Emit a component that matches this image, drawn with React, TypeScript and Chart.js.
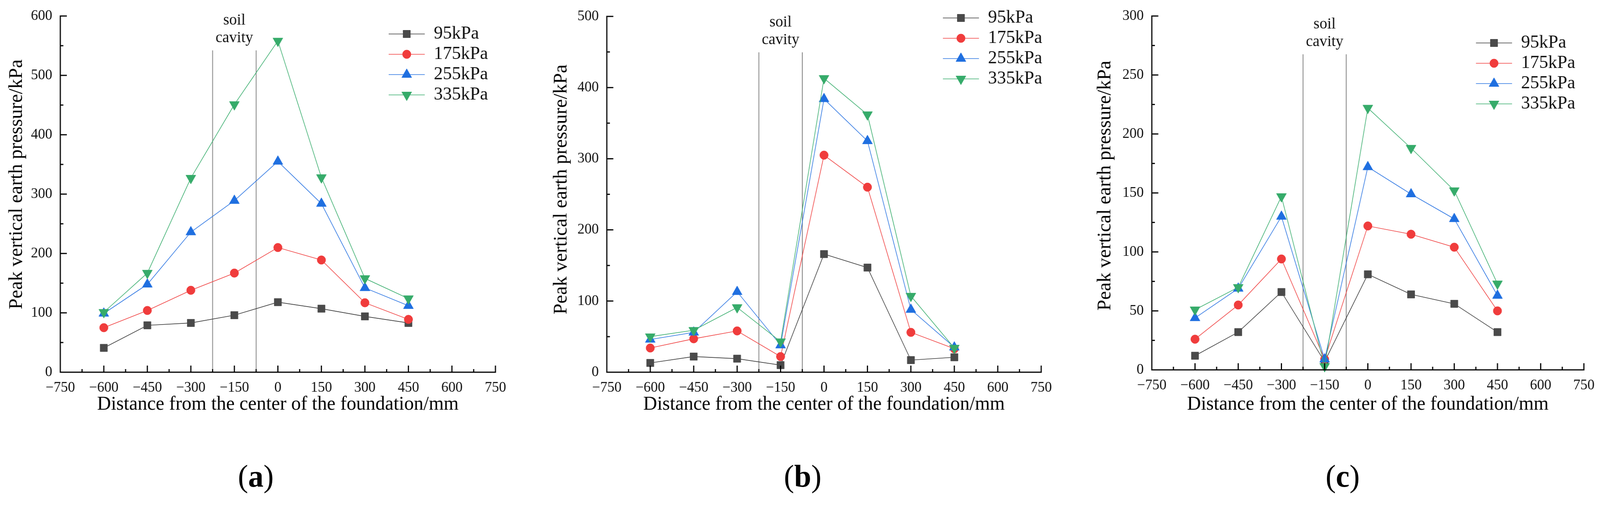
import { useEffect, useRef } from 'react'
import { Chart, registerables } from 'chart.js'
import { drawPoint } from 'chart.js/helpers'

Chart.register(...registerables)

const FONT = '"Liberation Serif", "Times New Roman", serif'
Chart.defaults.font.family = FONT

// ---- data ----
const positions = [-600, -450, -300, -150, 0, 150, 300, 450]
const seriesNames = ['95kPa', '175kPa', '255kPa', '335kPa']
const cavityEdges = [-225, -75]
const cavityLabel = ['soil', 'cavity']
const xTicks = { min: -750, max: 750, step: 150, minor: 75 }

// (a)
const a95 = [41, 79, 83, 96, 118, 107, 94, 83]
const a175 = [75, 104, 138, 167, 210, 189, 117, 89]
const a255 = [99, 148, 236, 289, 355, 284, 142, 112]
const a335 = [101, 167, 327, 451, 558, 328, 158, 124]
// (b)
const b95 = [13, 22, 19, 10, 166, 147, 17, 21]
const b175 = [34, 47, 58, 22, 305, 260, 56, 33]
const b255 = [46, 56, 113, 38, 384, 325, 88, 35]
const b335 = [50, 59, 91, 43, 413, 362, 107, 34]
// (c)
const c95 = [12, 32, 66, 7, 81, 64, 56, 32]
const c175 = [26, 55, 94, 9, 122, 115, 104, 50]
const c255 = [44, 69, 130, 9, 172, 149, 128, 63]
const c335 = [51, 70, 147, 3, 222, 188, 152, 73]

const yTicksA = { max: 600, step: 100, minor: 50 }
const yTicksB = { max: 500, step: 100, minor: 50 }
const yTicksC = { max: 300, step: 50, minor: 25 }

const xTitle = 'Distance from the center of the foundation/mm'
const yTitle = 'Peak vertical earth pressure/kPa'

// ---- styles ----
const markerColors = ['#4a4a4a', '#f03c3c', '#1f6fe0', '#36ab6a']
const lineColors = ['#3a3a3a', '#f04040', '#2a74e2', '#3aae6e']
const pointStyles = ['rect', 'circle', 'triangle', 'triangle'] as const
const pointRotations = [0, 0, 0, 180]
const pointRadii = [13.4, 11, 15, 15]

const PAGE_W = 4166
const PAGE_H = 1293
const SHIFT = 20 // canvas starts this far above the page top
const CH = 1150
const PAD_R = 60

type PanelProps = {
  tag: string
  left: number
  plotRight: number
  top: number
  axisY: number
  yTitlePad: number
  yTitleLift: number
  cavityTop: number
  legendFromRight: number
  legendFirstRow: number
  tagX: number
  series: number[][]
  yTicks: { max: number; step: number; minor: number }
}

const panels: PanelProps[] = [
  {
    tag: 'a', left: 0, plotRight: 1290, top: 41, axisY: 953, yTitlePad: 14, yTitleLift: 4,
    cavityTop: 88, legendFromRight: 278, legendFirstRow: 46, tagX: 666,
    series: [a95, a175, a255, a335], yTicks: yTicksA,
  },
  {
    tag: 'b', left: 1423, plotRight: 2711, top: 42, axisY: 953, yTitlePad: 9, yTitleLift: 2,
    cavityTop: 92, legendFromRight: 256, legendFirstRow: 4, tagX: 2090,
    series: [b95, b175, b255, b335], yTicks: yTicksB,
  },
  {
    tag: 'c', left: 2842, plotRight: 4124, top: 41, axisY: 947, yTitlePad: 6, yTitleLift: 3,
    cavityTop: 98, legendFromRight: 281, legendFirstRow: 69, tagX: 3496,
    series: [c95, c175, c255, c335], yTicks: yTicksC,
  },
]

const fmtNum = (v: number | string) => {
  const n = Number(v)
  return n < 0 ? '\u2212' + Math.abs(n) : String(n)
}

function makeLegendIcon(i: number) {
  const c = document.createElement('canvas')
  c.width = 94
  c.height = 36
  const g = c.getContext('2d')!
  g.strokeStyle = lineColors[i]
  g.lineWidth = 1.6
  g.beginPath()
  g.moveTo(0, 18)
  g.lineTo(94, 18)
  g.stroke()
  g.fillStyle = markerColors[i]
  g.strokeStyle = markerColors[i]
  g.lineWidth = 1
  drawPoint(
    g,
    { pointStyle: pointStyles[i], rotation: pointRotations[i], radius: pointRadii[i], borderWidth: 1 } as any,
    47,
    18,
  )
  return c
}

// soil cavity lines and label, axis lines with inward major/minor ticks
const axisExtras = {
  id: 'axisExtras',
  beforeDatasetsDraw(chart: any, _args: any, opts: any) {
    const { ctx, chartArea, scales } = chart
    const x = scales.x
    const top = chartArea.top + opts.cavityTop
    ctx.save()
    ctx.strokeStyle = '#808080'
    ctx.lineWidth = 2
    cavityEdges.forEach((v) => {
      const px = x.getPixelForValue(v)
      ctx.beginPath()
      ctx.moveTo(px, top)
      ctx.lineTo(px, chartArea.bottom)
      ctx.stroke()
    })
    const mid = x.getPixelForValue((cavityEdges[0] + cavityEdges[1]) / 2)
    ctx.fillStyle = '#111'
    ctx.font = `40px ${FONT}`
    ctx.textAlign = 'center'
    ctx.textBaseline = 'alphabetic'
    ctx.fillText(cavityLabel[0], mid, top - 66)
    ctx.fillText(cavityLabel[1], mid, top - 21)
    ctx.restore()
  },
  afterDraw(chart: any, _args: any, opts: any) {
    const { ctx, chartArea, scales } = chart
    const x = scales.x
    const y = scales.y
    const { left, bottom } = chartArea
    ctx.save()
    ctx.strokeStyle = '#000'
    ctx.lineWidth = 3
    ctx.beginPath()
    ctx.moveTo(left, y.getPixelForValue(opts.yMax) - 1.5)
    ctx.lineTo(left, bottom)
    ctx.moveTo(left - 1.5, bottom)
    ctx.lineTo(x.getPixelForValue(xTicks.max) + 1.5, bottom)
    for (let v = xTicks.min; v <= xTicks.max; v += xTicks.minor) {
      const px = x.getPixelForValue(v)
      const major = (v - xTicks.min) % xTicks.step === 0
      ctx.moveTo(px, bottom)
      ctx.lineTo(px, bottom - (major ? 17 : 8))
    }
    for (let v = 0; v <= opts.yMax; v += opts.yMinor) {
      const py = y.getPixelForValue(v)
      const major = v % opts.yStep === 0
      ctx.moveTo(left, py)
      ctx.lineTo(left + (major ? 17 : 8), py)
    }
    ctx.stroke()
    ctx.restore()
  },
}

// moves the chartArea legend to the top-right corner of the plot
const legendPlacer = {
  id: 'legendPlacer',
  afterLayout(chart: any, _args: any, opts: any) {
    const lg = chart.legend
    if (!lg) return
    const pad = 5
    const w = lg.width
    const h = lg.height
    lg.left = chart.chartArea.right - opts.fromRight - pad
    lg.top = chart.chartArea.top + opts.firstRow - 23.5 - pad
    lg.right = lg.left + w
    lg.bottom = lg.top + h
  },
}

function Panel(p: PanelProps) {
  const canvasRef = useRef<HTMLCanvasElement>(null)
  const chartRef = useRef<Chart | null>(null)
  const cw = p.plotRight - p.left + PAD_R

  useEffect(() => {
    const canvas = canvasRef.current
    if (!canvas) return
    const ctx = canvas.getContext('2d')
    if (!ctx) return
    if (chartRef.current) chartRef.current.destroy()

    const icons = seriesNames.map((_, i) => makeLegendIcon(i))

    const axisCommon = {
      border: { display: false },
      grid: { display: false, drawOnChartArea: false, drawTicks: false },
    }

    chartRef.current = new Chart(ctx, {
      type: 'line',
      data: {
        datasets: p.series.map((vals, i) => ({
          label: seriesNames[i],
          data: positions.map((x, k) => ({ x, y: vals[k] })),
          borderColor: lineColors[i],
          borderWidth: 1.6,
          tension: 0,
          fill: false,
          pointStyle: pointStyles[i],
          pointRotation: pointRotations[i],
          pointRadius: pointRadii[i],
          pointBackgroundColor: markerColors[i],
          pointBorderColor: markerColors[i],
          pointBorderWidth: 1,
          order: 3 - i,
          clip: false as any,
        })),
      },
      plugins: [axisExtras, legendPlacer],
      options: {
        responsive: false,
        animation: false,
        events: [],
        layout: { padding: { left: 0, top: p.top + SHIFT, right: PAD_R, bottom: 0 } },
        scales: {
          x: {
            type: 'linear',
            min: xTicks.min,
            max: xTicks.max,
            afterFit: (s: any) => {
              s.height = CH - (p.axisY + SHIFT)
            },
            ...axisCommon,
            ticks: {
              stepSize: xTicks.step,
              autoSkip: false,
              maxRotation: 0,
              padding: 18,
              color: '#111',
              font: { size: 37, family: FONT },
              callback: (v: any) => fmtNum(v),
            },
            title: {
              display: true,
              text: xTitle,
              color: '#000',
              font: { size: 50, family: FONT },
              padding: { top: 0, bottom: 64 },
            },
          },
          y: {
            type: 'linear',
            min: 0,
            max: p.yTicks.max,
            afterFit: (s: any) => {
              s.width = 157
            },
            ...axisCommon,
            ticks: {
              stepSize: p.yTicks.step,
              autoSkip: false,
              padding: 21,
              color: '#111',
              font: { size: 37, family: FONT },
              callback: (v: any) => fmtNum(v),
            },
            title: {
              display: true,
              // leading blanks nudge the rotated title a little above the axis centre
              text: ' '.repeat(p.yTitleLift) + yTitle,
              color: '#000',
              font: { size: 50, family: FONT },
              padding: { top: p.yTitlePad, bottom: 0 },
            },
          },
        } as any,
        plugins: {
          tooltip: { enabled: false },
          legend: {
            display: true,
            position: 'chartArea' as any,
            align: 'start',
            labels: {
              usePointStyle: true,
              pointStyleWidth: 94,
              padding: 5,
              color: '#111',
              font: { size: 47, family: FONT },
              generateLabels: (chart: any) =>
                chart.data.datasets.map((ds: any, i: number) => ({
                  text: ds.label,
                  pointStyle: icons[i],
                  fillStyle: markerColors[i],
                  strokeStyle: markerColors[i],
                  lineWidth: 0,
                  hidden: false,
                  datasetIndex: i,
                  fontColor: '#111',
                })),
            },
          },
          axisExtras: { cavityTop: p.cavityTop, yMinor: p.yTicks.minor, yStep: p.yTicks.step, yMax: p.yTicks.max },
          legendPlacer: { fromRight: p.legendFromRight, firstRow: p.legendFirstRow },
        } as any,
      },
    })

    return () => {
      if (chartRef.current) {
        chartRef.current.destroy()
        chartRef.current = null
      }
    }
  }, [p])

  return (
    <canvas
      ref={canvasRef}
      width={cw}
      height={CH}
      style={{ position: 'absolute', left: p.left, top: -SHIFT, width: cw, height: CH }}
    />
  )
}

export default function App() {
  // squeeze horizontally if the viewport is narrower than the figure
  const vw = typeof window !== 'undefined' ? window.innerWidth : PAGE_W
  const sx = vw > 0 ? Math.min(1, vw / PAGE_W) : 1

  return (
    <div style={{ position: 'fixed', left: 0, top: 0, right: 0, bottom: 0, overflow: 'hidden', background: '#fff' }}>
      <div
        style={{
          position: 'absolute',
          left: 0,
          top: 0,
          width: PAGE_W,
          height: PAGE_H,
          background: '#fff',
          overflow: 'hidden',
          transform: `scaleX(${sx})`,
          transformOrigin: '0 0',
        }}
      >
        {panels.map((p) => (
          <Panel key={p.tag} {...p} />
        ))}
        {panels.map((p) => (
          <div
            key={'tag-' + p.tag}
            style={{
              position: 'absolute',
              left: p.tagX - 100,
              top: 1179,
              width: 200,
              textAlign: 'center',
              fontFamily: FONT,
              fontSize: 80,
              lineHeight: '80px',
              color: '#000',
            }}
          >
            (<b>{p.tag}</b>)
          </div>
        ))}
      </div>
    </div>
  )
}
